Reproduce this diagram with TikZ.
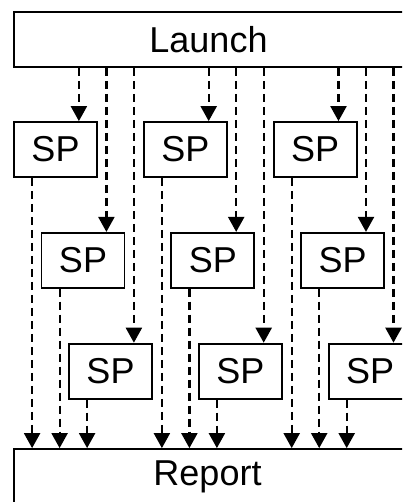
\documentclass[tikz,border=0pt]{standalone}
\usepackage{fontspec}
\setmainfont{Liberation Sans}
\usetikzlibrary{arrows.meta, positioning}
\tikzset{
    sp/.style={rectangle, draw=black, line width=1.8pt, fill=white, minimum width=83pt, minimum height=55pt, inner sep=0pt, font=\fontsize{36}{40}\selectfont},
    barbox/.style={sp, minimum width=394pt},
    arrow/.style={-{Triangle[length=15pt, width=16pt]}, line width=2.2pt, dash pattern=on 8pt off 5pt}
}

\begin{document}
\begin{tikzpicture}[x=1pt, y=1pt]
        \clip (0,0) rectangle (402,-502);

        % --- Start and end bars ---
        \node (Launch) [barbox] at (211,-39.5) {\hspace{-5pt}Launch};
        \node (Report) [barbox] at (211,-476.5) {\hspace{-7pt}Report};

        % --- Row 1 ---
        \node (SP11) [sp] at (55.5,-149.5) {SP};
        \node (SP12) [sp, right=45pt of SP11] {SP};
        \node (SP13) [sp, right=45pt of SP12] {SP};

        % --- Row 2 (shifted right) ---
        \node (SP21) [sp, below=54pt of SP11, xshift=27.5pt] {SP};
        \node (SP22) [sp, right=45pt of SP21] {SP};
        \node (SP23) [sp, right=45pt of SP22] {SP};

        % --- Row 3 (shifted right again) ---
        \node (SP31) [sp, below=54pt of SP21, xshift=27.5pt] {SP};
        \node (SP32) [sp, right=45pt of SP31] {SP};
        \node (SP33) [sp, right=45pt of SP32] {SP};

        % --- Arrows from Launch ---
        \draw [arrow] ([xshift=-19pt]SP11.north east |- Launch.south) -- ([xshift=-19pt]SP11.north east);
        \draw [arrow] ([xshift=-19pt]SP12.north east |- Launch.south) -- ([xshift=-19pt]SP12.north east);
        \draw [arrow] ([xshift=-19pt]SP13.north east |- Launch.south) -- ([xshift=-19pt]SP13.north east);
        \draw [arrow] ([xshift=-19pt]SP21.north east |- Launch.south) -- ([xshift=-19pt]SP21.north east);
        \draw [arrow] ([xshift=-19pt]SP22.north east |- Launch.south) -- ([xshift=-19pt]SP22.north east);
        \draw [arrow] ([xshift=-19pt]SP23.north east |- Launch.south) -- ([xshift=-19pt]SP23.north east);
        \draw [arrow] ([xshift=-19pt]SP31.north east |- Launch.south) -- ([xshift=-19pt]SP31.north east);
        \draw [arrow] ([xshift=-19pt]SP32.north east |- Launch.south) -- ([xshift=-19pt]SP32.north east);
        \draw [arrow] ([xshift=-19pt]SP33.north east |- Launch.south) -- ([xshift=-19pt]SP33.north east);

        % --- Arrows into Report ---
        \draw [arrow] ([xshift=19pt]SP11.south west) -- ([xshift=19pt]SP11.south west |- Report.north);
        \draw [arrow] ([xshift=19pt]SP12.south west) -- ([xshift=19pt]SP12.south west |- Report.north);
        \draw [arrow] ([xshift=19pt]SP13.south west) -- ([xshift=19pt]SP13.south west |- Report.north);
        \draw [arrow] ([xshift=19pt]SP21.south west) -- ([xshift=19pt]SP21.south west |- Report.north);
        \draw [arrow] ([xshift=19pt]SP22.south west) -- ([xshift=19pt]SP22.south west |- Report.north);
        \draw [arrow] ([xshift=19pt]SP23.south west) -- ([xshift=19pt]SP23.south west |- Report.north);
        \draw [arrow] ([xshift=19pt]SP31.south west) -- ([xshift=19pt]SP31.south west |- Report.north);
        \draw [arrow] ([xshift=19pt]SP32.south west) -- ([xshift=19pt]SP32.south west |- Report.north);
        \draw [arrow] ([xshift=19pt]SP33.south west) -- ([xshift=19pt]SP33.south west |- Report.north);
    \end{tikzpicture}
\end{document}
